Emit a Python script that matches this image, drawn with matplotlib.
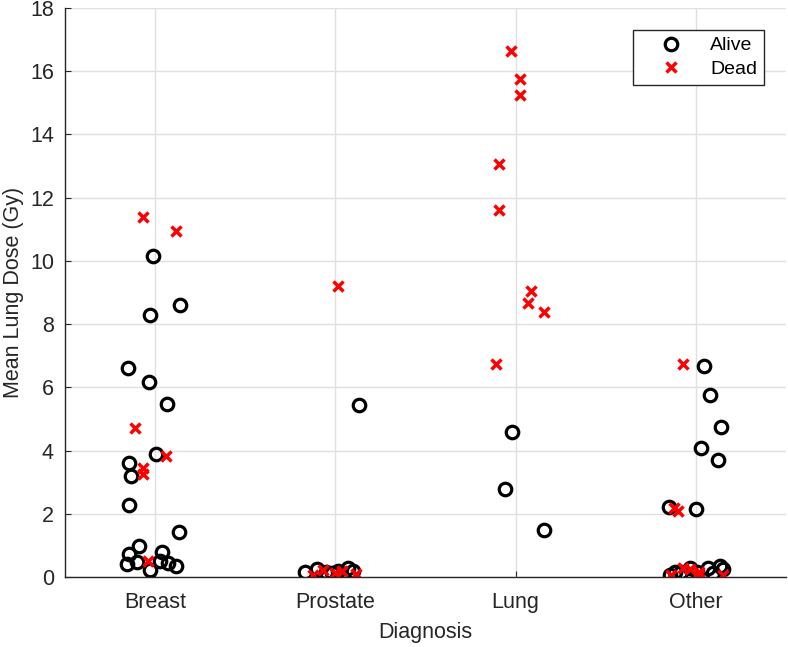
import matplotlib
matplotlib.use("Agg")
import matplotlib.pyplot as plt

plt.rcParams['font.family'] = ['Liberation Sans', 'DejaVu Sans']

categories = ["Breast", "Prostate", "Lung", "Other"]

# Breast
breast_alive_x = [0.988, 0.971, 1.138, 0.848, 0.968, 1.064, 1.005, 0.857, 0.866, 0.857,
                  1.132, 0.910, 0.857, 1.036, 0.842, 0.898, 0.971, 1.027, 1.073, 1.116]
breast_alive_y = [10.16, 8.30, 8.60, 6.60, 6.18, 5.46, 3.88, 3.60, 3.21, 2.28,
                  1.43, 0.98, 0.73, 0.80, 0.41, 0.48, 0.22, 0.52, 0.43, 0.36]
breast_dead_x = [0.933, 1.116, 0.887, 1.059, 0.931, 0.934, 0.962]
breast_dead_y = [11.39, 10.96, 4.70, 3.84, 3.44, 3.26, 0.51]

# Prostate
prostate_alive_x = [1.831, 1.899, 1.979, 2.016, 2.071, 2.099, 1.95, 2.131]
prostate_alive_y = [0.17, 0.24, 0.12, 0.20, 0.27, 0.20, 0.15, 5.44]
prostate_dead_x = [2.016, 1.877, 1.933, 1.998, 2.035, 2.114]
prostate_dead_y = [9.22, 0.06, 0.22, 0.12, 0.20, 0.09]

# Lung
lung_alive_x = [2.981, 2.939, 3.157]
lung_alive_y = [4.58, 2.78, 1.49]
lung_dead_x = [2.972, 3.024, 3.024, 2.907, 2.909, 3.088, 3.068, 3.158, 2.890]
lung_dead_y = [16.64, 15.76, 15.24, 13.07, 11.61, 9.06, 8.66, 8.37, 6.74]

# Other
other_alive_x = [4.046, 4.077, 4.142, 4.027, 4.120, 3.852, 4.000, 3.855, 3.883, 3.920,
                 3.966, 4.004, 4.068, 4.094, 4.133, 4.149]
other_alive_y = [6.68, 5.76, 4.75, 4.09, 3.70, 2.22, 2.14, 0.06, 0.17, 0.17,
                 0.27, 0.17, 0.27, 0.13, 0.35, 0.25]
other_dead_x = [3.926, 3.880, 3.900, 3.861, 3.927, 3.966, 4.020, 4.015, 4.148]
other_dead_y = [6.73, 2.17, 2.08, 0.06, 0.27, 0.24, 0.17, 0.06, 0.06]

alive_x = breast_alive_x + prostate_alive_x + lung_alive_x + other_alive_x
alive_y = breast_alive_y + prostate_alive_y + lung_alive_y + other_alive_y
dead_x = breast_dead_x + prostate_dead_x + lung_dead_x + other_dead_x
dead_y = breast_dead_y + prostate_dead_y + lung_dead_y + other_dead_y

fig = plt.figure(figsize=(7.88, 6.47), dpi=100)
ax = fig.add_axes([65 / 788, 70 / 647, 721 / 788, 569 / 647])

dark = (0.15, 0.15, 0.15)
ax.plot(alive_x, alive_y, linestyle="none", marker="o", markersize=9,
        markerfacecolor="none", markeredgecolor="black", markeredgewidth=2.3,
        label="Alive")
ax.plot(dead_x, dead_y, linestyle="none", marker="x", markersize=6.5,
        markeredgecolor="red", markeredgewidth=2.5, label="Dead")

ax.set_xlim(0.5, 4.5)
ax.set_ylim(0, 18)
ax.set_xticks([1, 2, 3, 4])
ax.set_xticklabels(categories)
ax.set_yticks(range(0, 19, 2))
ax.grid(True, color=(0.88, 0.88, 0.88), linewidth=1)
ax.set_axisbelow(True)
for s in ["top", "right"]:
    ax.spines[s].set_visible(False)
for s in ["left", "bottom"]:
    ax.spines[s].set_color(dark)
    ax.spines[s].set_linewidth(1)
ax.tick_params(direction="in", length=4, color=dark, labelcolor=dark,
               labelsize=15.5)
ax.tick_params(axis="x", pad=11)
ax.tick_params(axis="y", pad=8)
ax.set_xlabel("Diagnosis", fontsize=15.5, color=dark, labelpad=6)
ax.set_ylabel("Mean Lung Dose (Gy)", fontsize=15.5, color=dark, labelpad=4)

# legend box: right edge ~764 px, top ~30 px
leg = ax.legend(loc="upper right", bbox_to_anchor=(764 / 788, 1 - 30 / 647),
                bbox_transform=fig.transFigure, fancybox=False, fontsize=14,
                handlelength=3.2, handletextpad=0.4, borderpad=0.35,
                labelspacing=0.3, borderaxespad=0, framealpha=1)
leg.get_frame().set_edgecolor(dark)
leg.get_frame().set_linewidth(1)

fig.savefig("out.png", dpi=100)
